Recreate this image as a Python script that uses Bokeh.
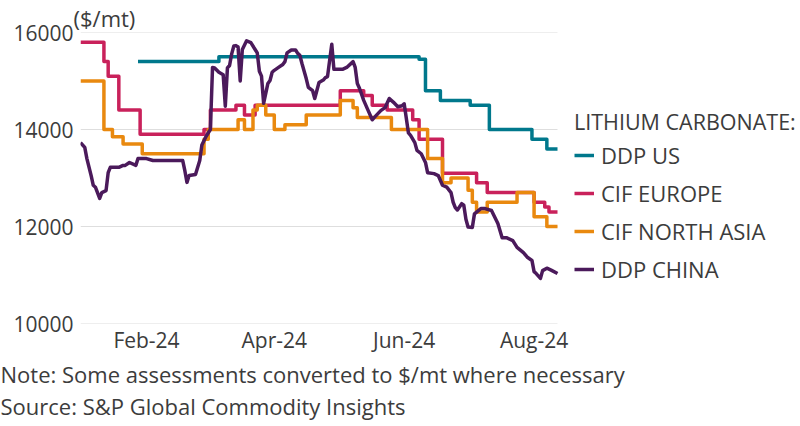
import pandas as pd
from bokeh.plotting import figure
from bokeh.models import Range1d, FixedTicker, DatetimeTickFormatter, Legend, LegendItem, Title
from bokeh.embed import file_html
from bokeh.resources import INLINE

# ---------------- data ----------------
us_dates = ["2024-01-28", "2024-03-06", "2024-06-08", "2024-06-11", "2024-06-18", "2024-07-02",
            "2024-07-11", "2024-07-31", "2024-08-07", "2024-08-12"]
us_vals = [15400, 15500, 15450, 14800, 14600, 14500, 14000, 13800, 13600, 13600]

eu_dates = ["2024-01-01", "2024-01-12", "2024-01-14", "2024-01-19", "2024-01-29", "2024-02-28",
            "2024-03-02", "2024-03-14", "2024-03-18", "2024-03-23", "2024-05-02", "2024-05-13",
            "2024-05-17", "2024-05-24", "2024-06-05", "2024-06-08", "2024-06-19", "2024-07-05",
            "2024-07-10", "2024-08-01", "2024-08-06", "2024-08-08", "2024-08-12"]
eu_vals = [15800, 15400, 15100, 14400, 13900, 14000, 14400, 14500, 14300, 14500, 14800, 14700,
           14500, 14400, 14200, 13800, 13100, 12900, 12700, 12500, 12400, 12300, 12300]

asia_dates = ["2024-01-01", "2024-01-12", "2024-01-16", "2024-01-21", "2024-01-30", "2024-02-28",
              "2024-03-01", "2024-03-15", "2024-03-18", "2024-03-22", "2024-03-24", "2024-03-28",
              "2024-04-01", "2024-04-06", "2024-04-16", "2024-05-02", "2024-05-08", "2024-05-10",
              "2024-05-26", "2024-06-12", "2024-06-19", "2024-06-23", "2024-07-01", "2024-07-03",
              "2024-07-05", "2024-07-10", "2024-07-24", "2024-08-01", "2024-08-07", "2024-08-12"]
asia_vals = [15000, 14000, 13850, 13700, 13500, 13800, 14000, 14200, 14000, 14400, 14500, 14300,
             14000, 14100, 14300, 14600, 14450, 14250, 14000, 13400, 12900, 13000, 12750, 12500,
             12300, 12500, 12700, 12200, 12000, 12000]

cn_dates = ["2024-01-01", "2024-01-03", "2024-01-04", "2024-01-06", "2024-01-07", "2024-01-08",
            "2024-01-10", "2024-01-11", "2024-01-13", "2024-01-14", "2024-01-15", "2024-01-19",
            "2024-01-21", "2024-01-22", "2024-01-24", "2024-01-27", "2024-01-28", "2024-02-01",
            "2024-02-04", "2024-02-18", "2024-02-19", "2024-02-20", "2024-02-21", "2024-02-24",
            "2024-02-26", "2024-02-27", "2024-02-29", "2024-03-02", "2024-03-03", "2024-03-04",
            "2024-03-06", "2024-03-08", "2024-03-09", "2024-03-10", "2024-03-11", "2024-03-12",
            "2024-03-13", "2024-03-14", "2024-03-15", "2024-03-16", "2024-03-17", "2024-03-19",
            "2024-03-21", "2024-03-23", "2024-03-24", "2024-03-25", "2024-03-26", "2024-03-27",
            "2024-03-29", "2024-03-30", "2024-03-31", "2024-04-01", "2024-04-03", "2024-04-05",
            "2024-04-06", "2024-04-07", "2024-04-09", "2024-04-11", "2024-04-12", "2024-04-13",
            "2024-04-14", "2024-04-16", "2024-04-17", "2024-04-19", "2024-04-20", "2024-04-22",
            "2024-04-24", "2024-04-25", "2024-04-26", "2024-04-28", "2024-04-29", "2024-04-30",
            "2024-05-03", "2024-05-05", "2024-05-08", "2024-05-09", "2024-05-10", "2024-05-11",
            "2024-05-13", "2024-05-15", "2024-05-17", "2024-05-18", "2024-05-21", "2024-05-23",
            "2024-05-25", "2024-05-27", "2024-05-29", "2024-05-31", "2024-06-01", "2024-06-02",
            "2024-06-03", "2024-06-04", "2024-06-06", "2024-06-07", "2024-06-09", "2024-06-11",
            "2024-06-12", "2024-06-15", "2024-06-17", "2024-06-19", "2024-06-21", "2024-06-23",
            "2024-06-24", "2024-06-25", "2024-06-26", "2024-06-28", "2024-06-29", "2024-06-30",
            "2024-07-01", "2024-07-03", "2024-07-04", "2024-07-07", "2024-07-09", "2024-07-12",
            "2024-07-15", "2024-07-17", "2024-07-19", "2024-07-22", "2024-07-24", "2024-07-27",
            "2024-07-29", "2024-07-31", "2024-08-01", "2024-08-02", "2024-08-04", "2024-08-05",
            "2024-08-07", "2024-08-09", "2024-08-12"]
cn_vals = [13730, 13630, 13400, 13050, 12850, 12810,
           12580, 12700, 12740, 13110, 13220, 13220,
           13260, 13260, 13320, 13260, 13400, 13400,
           13360, 13360, 13150, 12910, 13050, 13070,
           13360, 13680, 13860, 14000, 15280, 15270,
           15180, 15130, 14480, 15270, 15320, 15560,
           15720, 15730, 15700, 15000, 15650, 15830,
           15790, 15650, 15580, 15200, 15100, 14540,
           14950, 15010, 15180, 15220, 15280, 15340,
           15400, 15580, 15640, 15640, 15570, 15530,
           15360, 15050, 14870, 14800, 14640, 14970,
           15020, 15070, 15090, 15760, 15240, 15240,
           15240, 15280, 15400, 15280, 14950, 14850,
           14600, 14400, 14200, 14250, 14390, 14450,
           14640, 14560, 14470, 14490, 14530, 14230,
           13930, 13880, 13730, 13570, 13500, 13320,
           13110, 13090, 13050, 12850, 12810, 12700,
           12500, 12390, 12340, 12470, 12440, 12150,
           11990, 11980, 12260, 12370, 12370, 12330,
           12060, 11770, 11770, 11710, 11570, 11460,
           11360, 11300, 11070, 11030, 10930, 11090,
           11140, 11100, 11030]

series_names = ["DDP US", "CIF EUROPE", "CIF NORTH ASIA", "DDP CHINA"]
series_colors = ["#00788C", "#C9215B", "#E9890F", "#4B1A5B"]
tick_dates = ["2024-02-01", "2024-04-01", "2024-06-01", "2024-08-01"]
y_ticks = [10000, 12000, 14000, 16000]
data_start, data_end = "2024-01-01", "2024-08-12"

FONT = "Open Sans"
TXT = "#3c3c3c"

# ---------------- layout geometry ----------------
W, H = 800, 426
LEFT, TOP, BOTTOM = 80, 32, 103
DATA_W = 477                     # pixel width of the data area
FRAME_W = W - LEFT               # frame reaches the right edge, legend sits inside it
t0, t1 = pd.Timestamp(data_start), pd.Timestamp(data_end)
x_end = t0 + (t1 - t0) * (FRAME_W / DATA_W)

p = figure(width=W, height=H, output_backend="svg", toolbar_location=None,
           x_axis_type="datetime",
           x_range=Range1d(t0, x_end), y_range=Range1d(10000, 16000),
           min_border_left=LEFT, min_border_right=0, min_border_top=TOP,
           min_border_bottom=BOTTOM)
p.outline_line_color = None
p.background_fill_color = "white"
p.border_fill_color = "white"
p.xgrid.grid_line_color = None
p.ygrid.grid_line_color = None

# horizontal gridlines limited to the data span
p.segment(x0=[t0] * len(y_ticks), x1=[t1] * len(y_ticks), y0=y_ticks, y1=y_ticks,
          line_color="#dedede", line_width=1)

p.yaxis.ticker = FixedTicker(ticks=y_ticks)
p.xaxis.ticker = FixedTicker(ticks=[pd.Timestamp(d).value / 1e6 for d in tick_dates])
p.xaxis.formatter = DatetimeTickFormatter(days="%b-%y", months="%b-%y", years="%b-%y")
for ax in (p.xaxis[0], p.yaxis[0]):
    ax.axis_line_color = None
    ax.major_tick_line_color = None
    ax.minor_tick_line_color = None
    ax.major_tick_out = 0
    ax.major_tick_in = 0
    ax.major_label_text_font = FONT
    ax.major_label_text_font_size = "21px"
    ax.major_label_text_color = TXT
p.yaxis.major_label_standoff = 7
p.xaxis.major_label_standoff = 2

renderers = []
all_dates = [us_dates, eu_dates, asia_dates, cn_dates]
all_vals = [us_vals, eu_vals, asia_vals, cn_vals]
for i in range(4):
    x = pd.to_datetime(all_dates[i])
    if i < 3:
        r = p.step(x, all_vals[i], mode="after", line_color=series_colors[i], line_width=3.5,
                   line_join="round")
    else:
        r = p.line(x, all_vals[i], line_color=series_colors[i], line_width=3.5,
                   line_join="round")
    renderers.append(r)

legend = Legend(items=[LegendItem(label=series_names[i], renderers=[renderers[i]]) for i in range(4)],
                title="LITHIUM CARBONATE:", location=(494, 39),
                title_text_font=FONT, title_text_font_size="21.5px", title_text_color=TXT,
                title_text_font_style="normal", title_standoff=4,
                label_text_font=FONT, label_text_font_size="22px", label_text_color=TXT,
                glyph_width=20, glyph_height=20, label_standoff=7, label_height=20,
                spacing=8, padding=0, margin=0,
                border_line_color=None, background_fill_alpha=0)
p.add_layout(legend, "center")

p.add_layout(Title(text="($/mt)", align="left", offset=-7, standoff=0,
                   text_font=FONT, text_font_size="22px", text_color=TXT,
                   text_font_style="normal"), "above")
p.add_layout(Title(text="Note: Some assessments converted to $/mt where necessary",
                   align="left", offset=-80, standoff=0,
                   text_font=FONT, text_font_size="22px", text_color=TXT,
                   text_font_style="normal"), "below")
p.add_layout(Title(text="Source: S&P Global Commodity Insights",
                   align="left", offset=-80, standoff=0,
                   text_font=FONT, text_font_size="22px", text_color=TXT,
                   text_font_style="normal"), "below")

open("out.html", "w").write(file_html(p, INLINE))
